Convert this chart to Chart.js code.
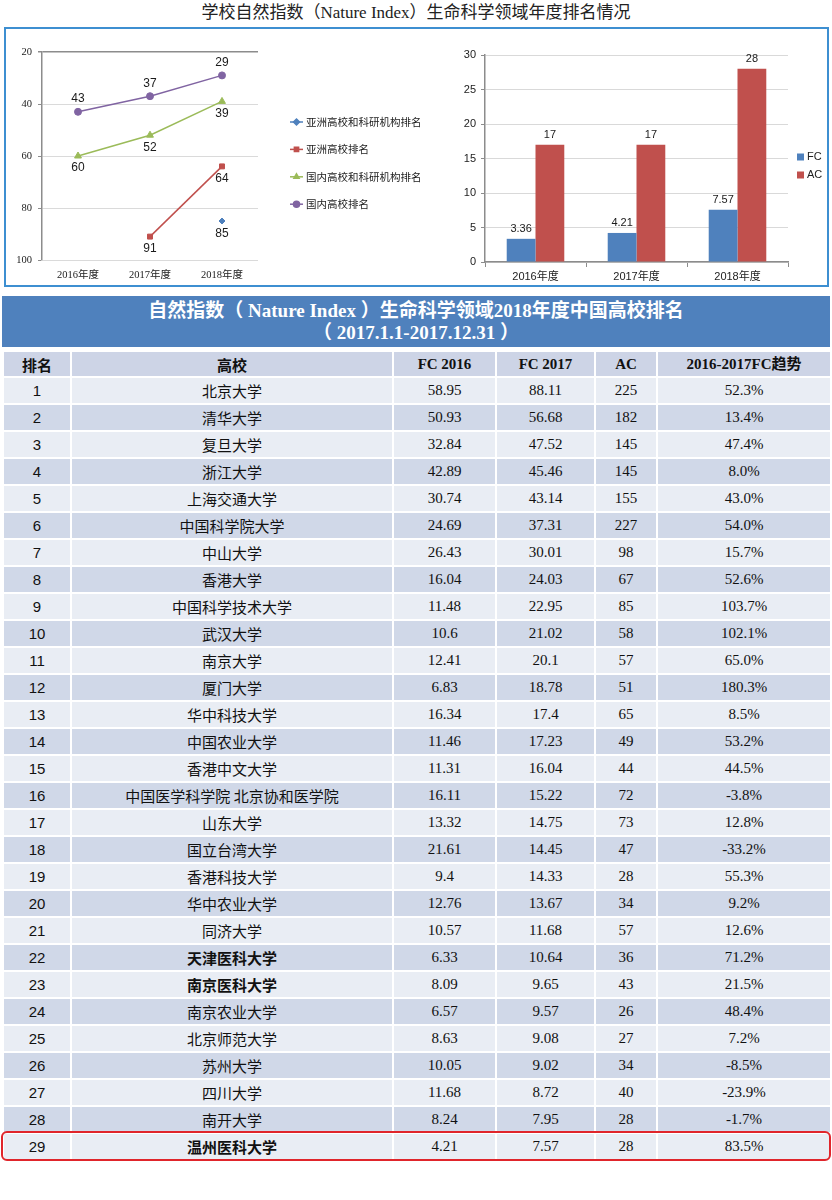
<!DOCTYPE html>
<html lang="zh-CN">
<head>
<meta charset="utf-8">
<title>学校自然指数（Nature Index）生命科学领域年度排名情况</title>
<script src="https://cdn.jsdelivr.net/npm/chart.js@4.4.1/dist/chart.umd.min.js"></script>
<style>
  body { margin: 0; background: #fff; }
  #page { position: relative; width: 832px; height: 1200px; overflow: hidden;
          font-family: "Liberation Serif", "Noto Sans CJK SC", serif; color: #111; }
  #title { position: absolute; left: 0; top: 0; width: 832px; text-align: center;
           font-size: 17px; line-height: 25px; color: #222; }
  #chartBox { position: absolute; left: 4px; top: 27px; width: 821px; height: 256px;
              border: 2px solid #3d8fd1; }
  #rankChart { position: absolute; left: 6px; top: 30px; }
  #countChart { position: absolute; left: 440px; top: 30px; }
  #banner { position: absolute; left: 2px; top: 296px; width: 828px; height: 51px;
            background: #4f81bd; color: #fff; text-align: center; font-weight: bold;
            font-size: 19px; line-height: 22px; padding-top: 4px; box-sizing: border-box; }
  #rankTable { position: absolute; left: 2px; top: 350px; width: 828px;
               border-collapse: collapse; table-layout: fixed; }
  #rankTable td, #rankTable th { border: 2px solid #fff; padding: 0; text-align: center;
               font-size: 15px; line-height: 1; font-weight: normal; white-space: nowrap; }
  #rankTable th { height: 24px; background: #cdd4e6; font-weight: bold; }
  #rankTable td { height: 25px; }
  #rankTable tr.odd td { background: #e9edf4; }
  #rankTable tr.even td { background: #d0d8e8; }
  #rankTable .rank { font-family: "Liberation Sans", "Noto Sans CJK SC", sans-serif; }
  #rankTable .school { font-family: "Noto Sans CJK SC", sans-serif; }
  #rankTable .school.bold { font-weight: bold; }
  #rankTable th.cjk { font-family: "Noto Sans CJK SC", sans-serif; }
  #highlight { position: absolute; left: 1px; top: 1131px; width: 826px; height: 26px;
               border: 2px solid #e0252b; border-radius: 6px; }
</style>
</head>
<body>
<div id="page">
  <div id="title">学校自然指数（Nature Index）生命科学领域年度排名情况</div>
  <div id="chartBox"></div>
  <canvas id="rankChart" width="424" height="256"></canvas>
  <canvas id="countChart" width="384" height="256"></canvas>

  <div id="banner">自然指数（ Nature Index ）生命科学领域2018年度中国高校排名<br>（ 2017.1.1-2017.12.31 ）</div>
  <table id="rankTable">
    <colgroup>
      <col style="width:68px"><col style="width:322px"><col style="width:103px">
      <col style="width:99px"><col style="width:62px"><col style="width:174px">
    </colgroup>
    <thead>
      <tr>
        <th class="cjk">排名</th><th class="cjk">高校</th><th>FC 2016</th>
        <th>FC 2017</th><th>AC</th><th>2016-2017FC趋势</th>
      </tr>
    </thead>
    <tbody id="rankBody"></tbody>
  </table>
  <div id="highlight"></div>
</div>

<script>
// Line chart: ranking by year (smaller is better, axis reversed)
const years = ['2016年度', '2017年度', '2018年度'];
const asiaInstRank = [null, null, 85];
const asiaUnivRank = [null, 91, 64];
const chinaInstRank = [60, 52, 39];
const chinaUnivRank = [43, 37, 29];
const rankTicks = [20, 40, 60, 80, 100];

// Bar chart: FC / AC
const fcValues = [3.36, 4.21, 7.57];
const acValues = [17, 17, 28];
const countTicks = [0, 5, 10, 15, 20, 25, 30];

// Table
const ranks = [1, 2, 3, 4, 5, 6, 7, 8, 9, 10, 11, 12, 13, 14, 15, 16, 17, 18, 19, 20,
  21, 22, 23, 24, 25, 26, 27, 28, 29];
const schools = ['北京大学', '清华大学', '复旦大学', '浙江大学', '上海交通大学', '中国科学院大学',
  '中山大学', '香港大学', '中国科学技术大学', '武汉大学', '南京大学', '厦门大学', '华中科技大学',
  '中国农业大学', '香港中文大学', '中国医学科学院 北京协和医学院', '山东大学', '国立台湾大学',
  '香港科技大学', '华中农业大学', '同济大学', '天津医科大学', '南京医科大学', '南京农业大学',
  '北京师范大学', '苏州大学', '四川大学', '南开大学', '温州医科大学'];
const fc2016 = ['58.95', '50.93', '32.84', '42.89', '30.74', '24.69', '26.43', '16.04', '11.48',
  '10.6', '12.41', '6.83', '16.34', '11.46', '11.31', '16.11', '13.32', '21.61', '9.4', '12.76',
  '10.57', '6.33', '8.09', '6.57', '8.63', '10.05', '11.68', '8.24', '4.21'];
const fc2017 = ['88.11', '56.68', '47.52', '45.46', '43.14', '37.31', '30.01', '24.03', '22.95',
  '21.02', '20.1', '18.78', '17.4', '17.23', '16.04', '15.22', '14.75', '14.45', '14.33', '13.67',
  '11.68', '10.64', '9.65', '9.57', '9.08', '9.02', '8.72', '7.95', '7.57'];
const acCounts = [225, 182, 145, 145, 155, 227, 98, 67, 85, 58, 57, 51, 65, 49, 44, 72, 73, 47,
  28, 34, 57, 36, 43, 26, 27, 34, 40, 28, 28];
const fcTrend = ['52.3%', '13.4%', '47.4%', '8.0%', '43.0%', '54.0%', '15.7%', '52.6%', '103.7%',
  '102.1%', '65.0%', '180.3%', '8.5%', '53.2%', '44.5%', '-3.8%', '12.8%', '-33.2%', '55.3%',
  '9.2%', '12.6%', '71.2%', '21.5%', '48.4%', '7.2%', '-8.5%', '-23.9%', '-1.7%', '83.5%'];
const boldRanks = [22, 23, 29];

// build table rows
const body = document.getElementById('rankBody');
ranks.forEach((r, i) => {
  const tr = document.createElement('tr');
  tr.className = i % 2 === 0 ? 'odd' : 'even';
  const cells = [
    [r, 'rank'],
    [schools[i], 'school' + (boldRanks.includes(r) ? ' bold' : '')],
    [fc2016[i], ''], [fc2017[i], ''], [acCounts[i], ''], [fcTrend[i], '']
  ];
  cells.forEach(([text, cls]) => {
    const td = document.createElement('td');
    td.textContent = text;
    if (cls) td.className = cls;
    tr.appendChild(td);
  });
  body.appendChild(tr);
});

// value labels next to points / above bars
const valueLabels = {
  id: 'valueLabels',
  afterDatasetsDraw(chart, args, opts) {
    const ctx = chart.ctx;
    ctx.save();
    ctx.font = opts.font;
    ctx.fillStyle = '#1a1a1a';
    ctx.textAlign = 'center';
    ctx.textBaseline = 'middle';
    chart.data.datasets.forEach((ds, i) => {
      chart.getDatasetMeta(i).data.forEach((el, j) => {
        const v = ds.data[j];
        if (v === null || v === undefined) return;
        ctx.fillText(String(v), el.x, el.y + opts.offsets[i]);
      });
    });
    ctx.restore();
  }
};

// legend drawn at the right of the plot area
const sideLegend = {
  id: 'sideLegend',
  afterDraw(chart, args, opts) {
    const { ctx, chartArea } = chart;
    const x0 = chartArea.right + opts.dx;
    ctx.save();
    ctx.font = opts.font;
    ctx.textBaseline = 'middle';
    ctx.textAlign = 'left';
    chart.data.datasets.forEach((ds, i) => {
      const y = chartArea.top + opts.dy + i * opts.step;
      if (opts.kind === 'line') {
        ctx.strokeStyle = ds.borderColor;
        ctx.fillStyle = ds.borderColor;
        ctx.lineWidth = 1.5;
        ctx.beginPath();
        ctx.moveTo(x0, y);
        ctx.lineTo(x0 + 13, y);
        ctx.stroke();
        Chart.helpers.drawPoint(ctx, { pointStyle: ds.pointStyle, radius: 3, borderWidth: 1, rotation: 0 },
          x0 + 6.5, y);
        ctx.fillStyle = '#222';
        ctx.fillText(ds.label, x0 + 16, y);
      } else {
        ctx.fillStyle = ds.backgroundColor;
        ctx.fillRect(x0, y - 3.5, 7, 7);
        ctx.fillStyle = '#222';
        ctx.fillText(ds.label, x0 + 10, y);
      }
    });
    ctx.restore();
  }
};

const pointDs = (label, data, color, style, r) => ({
  label, data, borderColor: color, backgroundColor: color, borderWidth: 1.5,
  pointStyle: style, pointRadius: r, pointBorderWidth: 1, spanGaps: false
});

new Chart(document.getElementById('rankChart'), {
  type: 'line',
  data: {
    labels: years,
    datasets: [
      pointDs('亚洲高校和科研机构排名', asiaInstRank, '#4f81bd', 'rectRot', 3),
      pointDs('亚洲高校排名', asiaUnivRank, '#c0504d', 'rect', 3.5),
      pointDs('国内高校和科研机构排名', chinaInstRank, '#9bbb59', 'triangle', 4),
      pointDs('国内高校排名', chinaUnivRank, '#8064a2', 'circle', 3.5)
    ]
  },
  options: {
    responsive: false,
    animation: false,
    layout: { padding: { left: 0, right: 172, top: 22, bottom: 0 } },
    plugins: {
      legend: { display: false },
      tooltip: { enabled: false },
      valueLabels: { font: '12px "Liberation Sans", sans-serif', offsets: [13, 12, 12, -13] },
      sideLegend: { kind: 'line', dx: 32, dy: 70, step: 27.4, font: '10.5px "Noto Sans CJK SC", sans-serif' }
    },
    scales: {
      x: {
        offset: true,
        grid: { display: false },
        border: { display: false },
        ticks: { color: '#222', padding: 1, font: { family: '"Liberation Serif", "Noto Sans CJK SC"', size: 10.5 } },
        afterFit: s => { s.height = 26; }
      },
      y: {
        reverse: true,
        min: rankTicks[0],
        max: rankTicks[rankTicks.length - 1],
        afterBuildTicks: s => { s.ticks = rankTicks.map(v => ({ value: v })); },
        grid: {
          color: c => c.tick.value === 20 ? '#8c8c8c' : '#dadada',
          lineWidth: c => c.tick.value === 20 ? 1.5 : 1,
          tickLength: 4,
          tickColor: '#8c8c8c'
        },
        border: { color: '#8c8c8c', width: 1.5 },
        ticks: { color: '#222', padding: 6, font: { family: '"Liberation Serif"', size: 10.5 } },
        afterFit: s => { s.width = 36; }
      }
    }
  },
  plugins: [valueLabels, sideLegend]
});

new Chart(document.getElementById('countChart'), {
  type: 'bar',
  data: {
    labels: years,
    datasets: [
      { label: 'FC', data: fcValues, backgroundColor: '#4f81bd', categoryPercentage: 0.57, barPercentage: 1 },
      { label: 'AC', data: acValues, backgroundColor: '#c0504d', categoryPercentage: 0.57, barPercentage: 1 }
    ]
  },
  options: {
    responsive: false,
    animation: false,
    layout: { padding: { left: 0, right: 36, top: 25, bottom: 0 } },
    plugins: {
      legend: { display: false },
      tooltip: { enabled: false },
      valueLabels: { font: '11px "Liberation Sans", sans-serif', offsets: [-10, -10] },
      sideLegend: { kind: 'bar', dx: 9, dy: 102, step: 18, font: '11px "Liberation Sans", sans-serif' }
    },
    scales: {
      x: {
        grid: { drawOnChartArea: false, tickLength: 5, tickColor: '#8c8c8c', offset: true },
        border: { color: '#8c8c8c', width: 1.5 },
        ticks: { color: '#222', padding: 3, font: { family: '"Liberation Sans", "Noto Sans CJK SC"', size: 11 } },
        afterFit: s => { s.height = 24; }
      },
      y: {
        min: countTicks[0],
        max: countTicks[countTicks.length - 1],
        afterBuildTicks: s => { s.ticks = countTicks.map(v => ({ value: v })); },
        grid: { color: '#d9d9d9', tickLength: 4, tickColor: '#8c8c8c' },
        border: { color: '#8c8c8c', width: 1.5 },
        ticks: { color: '#222', padding: 5, font: { family: '"Liberation Sans"', size: 11 } },
        afterFit: s => { s.width = 45; }
      }
    }
  },
  plugins: [valueLabels, sideLegend]
});
</script>
</body>
</html>
